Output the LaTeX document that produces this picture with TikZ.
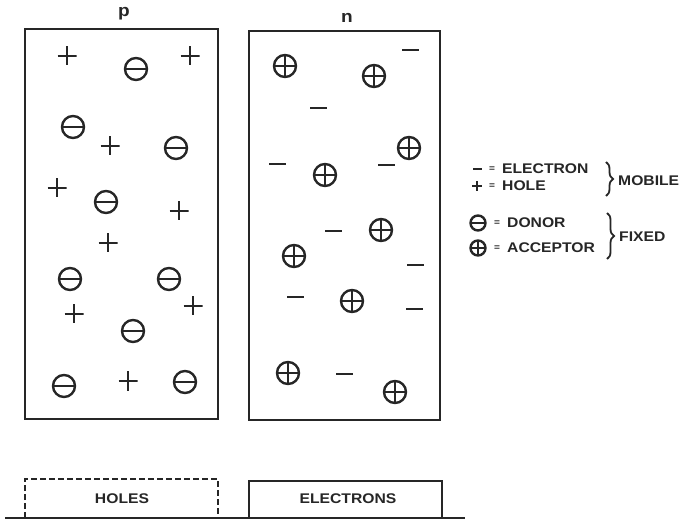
\documentclass[tikz,border=0pt]{standalone}
\usepackage{fontspec}
\setmainfont{Liberation Sans}
\newfontfamily\labfont[FakeStretch=1.12]{Liberation Sans Bold}
\usetikzlibrary{decorations.pathreplacing}
\begin{document}
\begin{tikzpicture}[x=1pt,y=-1pt,
  ink/.style={draw=black!85},
  slab/.style={ink, line width=2.2pt, inner sep=0pt},
  holesym/.style={inner sep=0pt, minimum size=#1,
    path picture={\draw[black!85, line width=2.4pt] (path picture bounding box.north) -- (path picture bounding box.south)
      (path picture bounding box.west) -- (path picture bounding box.east);}},
  holesym/.default=19pt,
  elecsym/.style={inner sep=0pt, minimum width=#1, minimum height=2.4pt, fill=black!85},
  elecsym/.default=17pt,
  donorsym/.style={circle, ink, line width=2.4pt, inner sep=0pt, minimum size=#1,
    path picture={\draw[black!85, line width=2.2pt] (path picture bounding box.west) -- (path picture bounding box.east);}},
  donorsym/.default=22pt,
  accsym/.style={circle, ink, line width=2.4pt, inner sep=0pt, minimum size=#1,
    path picture={\draw[black!85, line width=2.2pt] (path picture bounding box.north) -- (path picture bounding box.south)
      (path picture bounding box.west) -- (path picture bounding box.east);}},
  accsym/.default=22pt,
  lab/.style={font=\labfont\fontsize{14}{14}\selectfont, text=black!85, inner sep=0pt},
  eqs/.style={font=\labfont\fontsize{9}{9}\selectfont, text=black!85, inner sep=0pt},
  brc/.style={ink, line width=1.8pt, decorate, decoration={brace, amplitude=7pt}}
]
\useasboundingbox (0,0) rectangle (683,521);

% slabs
\node[slab, minimum width=193pt, minimum height=390pt] (pbox) at (121.5,224) {};
\node[slab, minimum width=191pt, minimum height=389pt] (nbox) at (344.5,225.5) {};
\node[font=\labfont\fontsize{17}{17}\selectfont, text=black!85, inner sep=0pt, anchor=base] (plab) at (124,17) {p};
\node[font=\labfont\fontsize{17}{17}\selectfont, text=black!85, inner sep=0pt, anchor=base] (nlab) at (347,23) {n};

% p region
\foreach \x/\y [count=\i] in {67/56,190/56,110/146,57/188,179/211,108/243,193/306,74/314,128/381}
  \node[holesym] (h\i) at (\x,\y) {};
\foreach \x/\y [count=\i] in {136/69,73/127,176/148,106/202,70/279,169/279,133/331,64/386,185/382}
  \node[donorsym] (d\i) at (\x,\y) {};

% n region
\foreach \x/\y [count=\i] in {285/66,374/76,409/148,325/175,381/230,294/256,352/301,288/373,395/392}
  \node[accsym] (a\i) at (\x,\y) {};
\foreach \x/\y [count=\i] in {410/50,318/108,277/164,386/165,333/231,415/265,295/297,414/309,344/374}
  \node[elecsym] (e\i) at (\x,\y) {};

% legend
\node[elecsym=9pt] (le) at (477,169) {};
\node[eqs] (leq1) at (492,169) {=};
\node[lab, anchor=west] (lelec) at (502,169) {ELECTRON};
\node[holesym=10pt] (lh) at (477,186) {};
\node[eqs] (leq2) at (492,186) {=};
\node[lab, anchor=west] (lhole) at (502,186) {HOLE};
\node[donorsym=15pt] (ld) at (478,223) {};
\node[eqs] (leq3) at (497,223) {=};
\node[lab, anchor=west] (ldon) at (507,223) {DONOR};
\node[accsym=15pt] (la) at (478,248) {};
\node[eqs] (leq4) at (497,248) {=};
\node[lab, anchor=west] (lacc) at (507,248) {ACCEPTOR};

\coordinate (mb1) at (606,162);
\coordinate (mb2) at (606,196);
\draw[brc] (mb1) -- (mb2);
\node[lab, anchor=west] (mobile) at (618,181) {MOBILE};
\coordinate (fb1) at (607,213);
\coordinate (fb2) at (607,259);
\draw[brc] (fb1) -- (fb2);
\node[lab, anchor=west] (fixed) at (619,237) {FIXED};

% bottom bar chart
\coordinate (b0) at (5,518);
\coordinate (b1) at (465,518);
\draw[ink, line width=1.8pt] (b0) -- (b1);
\coordinate (hb1) at (25,518);
\coordinate (hb2) at (218,518);
\draw[ink, line width=2.2pt, dash pattern=on 6pt off 3pt] (hb1) -- ++(0,-39) -| (hb2);
\node[lab] (holes) at (122,499) {HOLES};
\coordinate (eb1) at (249,518);
\coordinate (eb2) at (442,518);
\draw[ink, line width=2.2pt] (eb1) -- ++(0,-37) -| (eb2);
\node[lab] (electrons) at (348,499) {ELECTRONS};
\end{tikzpicture}
\end{document}
